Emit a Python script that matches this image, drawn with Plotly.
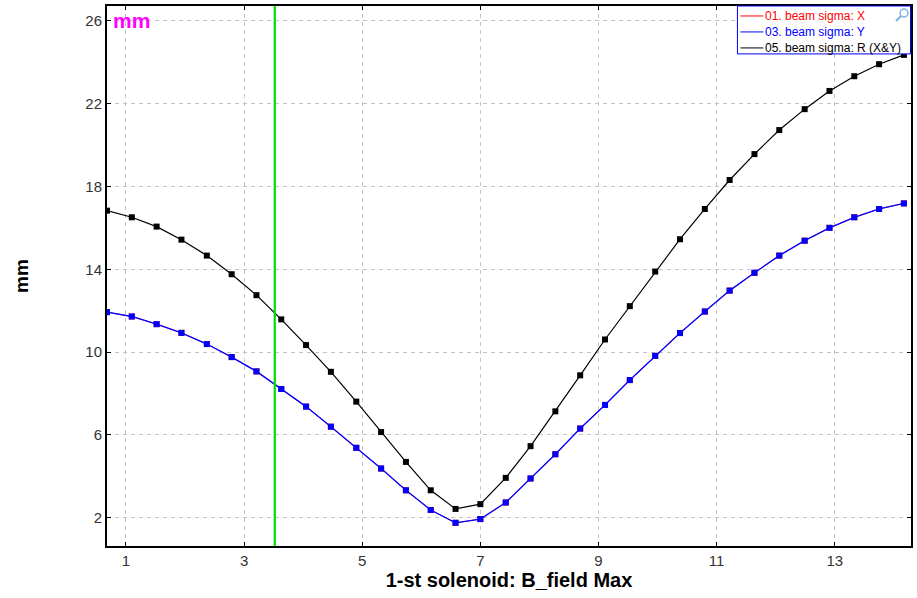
import plotly.graph_objects as go

# B_field values (x)
b_field = [0.68, 1.10, 1.52, 1.94, 2.37, 2.79, 3.21, 3.63, 4.05, 4.47, 4.90,
           5.32, 5.74, 6.16, 6.58, 7.00, 7.43, 7.85, 8.27, 8.69, 9.11, 9.53,
           9.96, 10.38, 10.80, 11.22, 11.64, 12.06, 12.49, 12.91, 13.33, 13.75, 14.17]

sigma_y = [11.93, 11.72, 11.35, 10.93, 10.39, 9.76, 9.07, 8.22, 7.37, 6.40, 5.38,
           4.38, 3.33, 2.38, 1.76, 1.94, 2.74, 3.90, 5.07, 6.31, 7.45, 8.65,
           9.82, 10.92, 11.96, 12.97, 13.83, 14.66, 15.38, 16.00, 16.51, 16.91, 17.18]

sigma_x = list(sigma_y)  # X identical to Y (hidden below Y)

sigma_r = [16.83, 16.51, 16.06, 15.43, 14.66, 13.76, 12.75, 11.58, 10.34, 9.05, 7.61,
           6.14, 4.70, 3.33, 2.43, 2.66, 3.93, 5.46, 7.14, 8.88, 10.61, 12.22,
           13.89, 15.45, 16.91, 18.31, 19.56, 20.72, 21.73, 22.61, 23.32, 23.90, 24.35]

series_names = ["01. beam sigma: X", "03. beam sigma: Y", "05. beam sigma: R (X&Y)"]
series_colors = ["#ff0000", "#0000ff", "#000000"]

marker_x = 3.52
x_ticks = [1, 3, 5, 7, 9, 11, 13]
y_ticks = [2, 6, 10, 14, 18, 22, 26]

FONT = "Liberation Sans, Arial, sans-serif"
W, H = 917, 598
ML, MR, MT, MB = 107, 4, 5, 52
PW, PH = W - ML - MR, H - MT - MB


def px(xp):
    return (xp - ML) / PW


def py(yp):
    return (H - MB - yp) / PH


fig = go.Figure()

widths = [0.8, 1.3, 1.2]
for vals, col, w in zip([sigma_x, sigma_y, sigma_r], series_colors, widths):
    fig.add_trace(go.Scatter(
        x=b_field, y=vals, mode="lines+markers",
        line=dict(color=col, width=w),
        marker=dict(symbol="square", size=6, color=col),
        showlegend=False, cliponaxis=True, hoverinfo="x+y"))

fig.add_shape(type="line", xref="x", yref="paper", x0=marker_x, x1=marker_x, y0=0, y1=1,
              line=dict(color="#00dd00", width=2.2))

fig.add_annotation(text="<b>mm</b>", xref="paper", yref="paper", x=px(111), y=py(6),
                   xanchor="left", yanchor="top", showarrow=False,
                   font=dict(family=FONT, size=21, color="#ff00ff"))

# custom legend box
fig.add_shape(type="rect", xref="paper", yref="paper",
              x0=px(739), x1=px(912.5), y0=py(53), y1=py(5),
              line=dict(color="#0000ff", width=1), fillcolor="white", layer="above")
row_y = [15, 31, 47]
for name, col, ry in zip(series_names, series_colors, row_y):
    fig.add_shape(type="line", xref="paper", yref="paper",
                  x0=px(742), x1=px(765), y0=py(ry), y1=py(ry),
                  line=dict(color=col, width=1), layer="above")
    fig.add_annotation(text=name, xref="paper", yref="paper", x=px(765), y=py(ry),
                       xanchor="left", yanchor="middle", showarrow=False,
                       font=dict(family=FONT, size=12, color=col))
# magnifier icon
fig.add_shape(type="circle", xref="paper", yref="paper",
              x0=px(902), x1=px(910), y0=py(16), y1=py(8),
              line=dict(color="#7fb0e0", width=1.5), layer="above")
fig.add_shape(type="line", xref="paper", yref="paper",
              x0=px(903), x1=px(898), y0=py(15), y1=py(20),
              line=dict(color="#7fb0e0", width=2), layer="above")

axis_common = dict(showline=True, linecolor="black", linewidth=2, mirror="ticks",
                   ticks="inside", ticklen=4, tickcolor="black",
                   showgrid=True, gridcolor="#c4c4c4", griddash="4px,4px", gridwidth=1,
                   zeroline=False,
                   tickfont=dict(family=FONT, size=15, color="#333333"))

fig.update_xaxes(range=[0.68, 14.29], tickvals=x_ticks,
                 title=dict(text="<b>1-st solenoid: B_field Max</b>", standoff=4,
                            font=dict(family=FONT, size=20, color="black")),
                 **axis_common)
fig.update_yaxes(range=[0.64, 26.71], tickvals=y_ticks,
                 title=dict(text="<b>mm</b>", standoff=52,
                            font=dict(family=FONT, size=19, color="black")),
                 **axis_common)

fig.update_layout(
    width=W, height=H,
    margin=dict(l=ML, r=MR, t=MT, b=MB),
    plot_bgcolor="white", paper_bgcolor="white",
    font=dict(family=FONT),
    showlegend=False,
)

fig.write_html("out.html")
